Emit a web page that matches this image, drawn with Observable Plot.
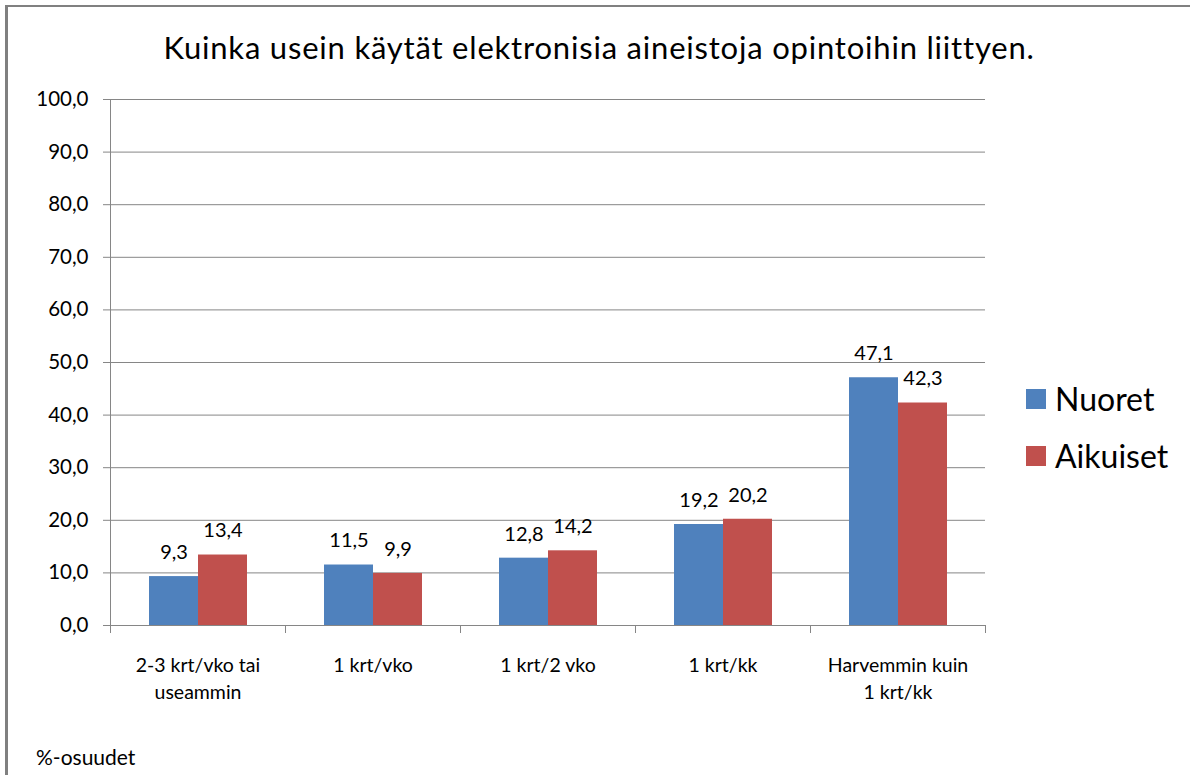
<!DOCTYPE html>
<html>
<head>
<meta charset="utf-8">
<script src="https://cdn.jsdelivr.net/npm/d3@7"></script>
<script src="https://cdn.jsdelivr.net/npm/@observablehq/plot@0.6"></script>
<style>
  body { margin: 0; background: #fff; }
  #wrap { position: relative; width: 1190px; height: 775px; overflow: hidden; font-family: Lato, "Open Sans", sans-serif; color: #000; }
  #border { position: absolute; left: 5px; top: 5px; width: 1200px; height: 800px; border-left: 3px solid #808080; border-top: 2px solid #808080; box-sizing: border-box; }
  #title { position: absolute; left: 8px; width: 1182px; top: 28px; text-align: center; font-size: 31px; letter-spacing: 0.8px; line-height: 38px; white-space: nowrap; }
  #chart { position: absolute; left: 0; top: 80px; }
  #legend { position: absolute; left: 1026px; top: 370px; }
  .item { display: flex; align-items: center; height: 57px; }
  .sw { width: 20px; height: 20px; margin-right: 9px; }
  .lab { font-size: 32px; line-height: 36px; }
  #caption { position: absolute; left: 36px; top: 745px; font-size: 21px; line-height: 24px; }
</style>
</head>
<body>
<div id="wrap">
  <div id="border"></div>
  <div id="title"></div>
  <div id="chart"></div>
  <div id="legend"></div>
  <div id="caption"></div>
</div>
<script>
const titleText = "Kuinka usein käytät elektronisia aineistoja opintoihin liittyen.";
const captionText = "%-osuudet";
const categories = ["2-3 krt/vko tai\nuseammin", "1 krt/vko", "1 krt/2 vko", "1 krt/kk", "Harvemmin kuin\n1 krt/kk"];
const series = ["Nuoret", "Aikuiset"];
const colors = ["#4F81BD", "#C0504D"];
const nuoret = [9.3, 11.5, 12.8, 19.2, 47.1];
const aikuiset = [13.4, 9.9, 14.2, 20.2, 42.3];
const yTicks = [0, 10, 20, 30, 40, 50, 60, 70, 80, 90, 100];

const fmt = v => v.toFixed(1).replace(".", ",");

const data = [];
categories.forEach((c, i) => {
  data.push({cat: c, series: "Nuoret", value: nuoret[i]});
  data.push({cat: c, series: "Aikuiset", value: aikuiset[i]});
});

document.getElementById("title").textContent = titleText;
document.getElementById("caption").textContent = captionText;

const legend = document.getElementById("legend");
series.forEach((s, i) => {
  const it = document.createElement("div");
  it.className = "item";
  const sw = document.createElement("div");
  sw.className = "sw";
  sw.style.background = colors[i];
  const lab = document.createElement("div");
  lab.className = "lab";
  lab.textContent = s;
  it.appendChild(sw);
  it.appendChild(lab);
  legend.appendChild(it);
});

const W = 1190, H = 695, mT = 19, mB = 150, mL = 109, mR = 205;
const plotH = H - mT - mB;
const grid = "#868686";

const chart = Plot.plot({
  width: W,
  height: H,
  marginTop: mT,
  marginBottom: mB,
  marginLeft: mL,
  marginRight: mR,
  style: {fontFamily: "Lato, 'Open Sans', sans-serif", background: "transparent", overflow: "visible"},
  fx: {domain: categories, padding: 0, axis: null, label: null},
  x: {domain: series, paddingInner: 0, paddingOuter: 0.77, axis: null, label: null},
  y: {domain: [0, 100], axis: null, label: null},
  color: {domain: series, range: colors},
  marks: [
    Plot.ruleY(yTicks, {y: d => d, stroke: grid, strokeWidth: 1}),
    Plot.barY(data, {fx: "cat", x: "series", y: "value", fill: "series"}),
    Plot.frame({anchor: "left", facetAnchor: "left", stroke: grid, insetBottom: -7}),
    Plot.frame({anchor: "left", stroke: grid, insetTop: plotH, insetBottom: -7}),
    Plot.frame({anchor: "right", stroke: grid, insetTop: plotH, insetBottom: -7}),
    Plot.axisY(yTicks, {tickSize: 7, tickPadding: 15, tickFormat: fmt, fontSize: 20.5, stroke: grid, fill: "#000", label: null}),
    Plot.text(data, {fx: "cat", x: "series", y: "value", text: d => fmt(d.value), dy: -24, fontSize: 20, fill: "#000"}),
    Plot.text(categories, {fx: d => d, text: d => d, frameAnchor: "bottom", lineAnchor: "top", dy: 27, fontSize: 19.5, lineHeight: 27 / 19.5, fill: "#000"})
  ]
});
document.getElementById("chart").appendChild(chart);
</script>
</body>
</html>
